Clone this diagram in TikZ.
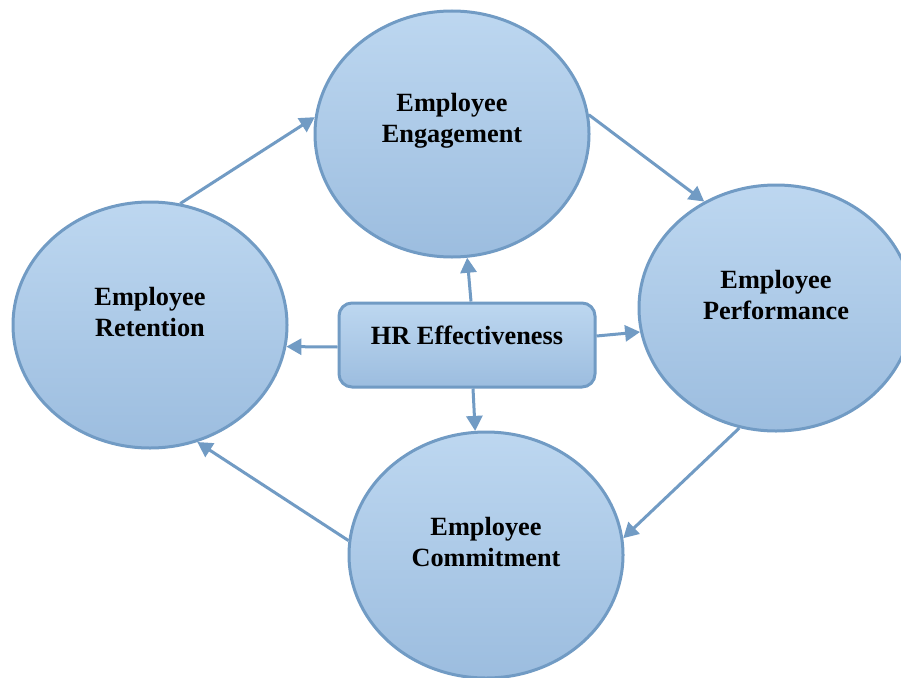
\documentclass[tikz,border=0pt]{standalone}
\usepackage{fontspec}
\setmainfont{Liberation Serif}
\usetikzlibrary{shapes.geometric,arrows.meta,calc}
\definecolor{edgeblue}{RGB}{113,155,196}
\definecolor{topblue}{RGB}{189,215,240}
\definecolor{botblue}{RGB}{156,189,223}
\tikzset{
  bubble/.style={ellipse, draw=edgeblue, line width=3pt, top color=topblue, bottom color=botblue,
    minimum width=274pt, minimum height=246pt, inner sep=0pt},
  hrbox/.style={rectangle, rounded corners=13pt, draw=edgeblue, line width=3pt, top color=topblue, bottom color=botblue,
    minimum width=256pt, minimum height=84pt, inner sep=0pt},
  label/.style={align=center, font=\bfseries\fontsize{26.3}{31.5}\selectfont, inner sep=0pt},
  flow/.style={draw=edgeblue, line width=3pt, -{Triangle[length=15pt,width=16pt]}},
}
\begin{document}
\begin{tikzpicture}[x=1pt,y=-1pt]
\clip (0,0) rectangle (901,677);
\fill[white] (0,0) rectangle (901,677);
\node[bubble] (eng) at (452,134) {};
\node[bubble] (ret) at (150,325) {};
\node[bubble] (perf) at (776,308) {};
\node[bubble] (comm) at (486,555) {};
\node[hrbox] (hr) at (467,345) {};
\node[label] (engt) at ($(eng.center)+(0,-13)$) {Employee\\Engagement};
\node[label] (rett) at ($(ret.center)+(0,-13)$) {Employee\\Retention};
\node[label] (perft) at ($(perf.center)+(0,-13)$) {Employee\\Performance};
\node[label] (commt) at ($(comm.center)+(0,-13)$) {Employee\\Commitment};
\node[label] (hrt) at ($(hr.center)+(0,-10)$) {HR Effectiveness};
% outer cycle
\draw[flow] (ret.76.7) -- (eng.173);
\draw[flow] (eng.8) -- (perf.124.7);
\draw[flow] (perf.253) -- (comm.7);
\draw[flow] (comm.174) -- (ret.292);
% from centre box
\draw[flow] ($(hr.north)+(4,0)$) -- (eng.277.8);
\draw[flow] ($(hr.east)+(0,-9)$) -- (perf.190.7);
\draw[flow] ($(hr.west)+(0,2)$) -- (ret.351);
\draw[flow] ($(hr.south)+(6,0)$) -- (comm.95.6);
\end{tikzpicture}
\end{document}
